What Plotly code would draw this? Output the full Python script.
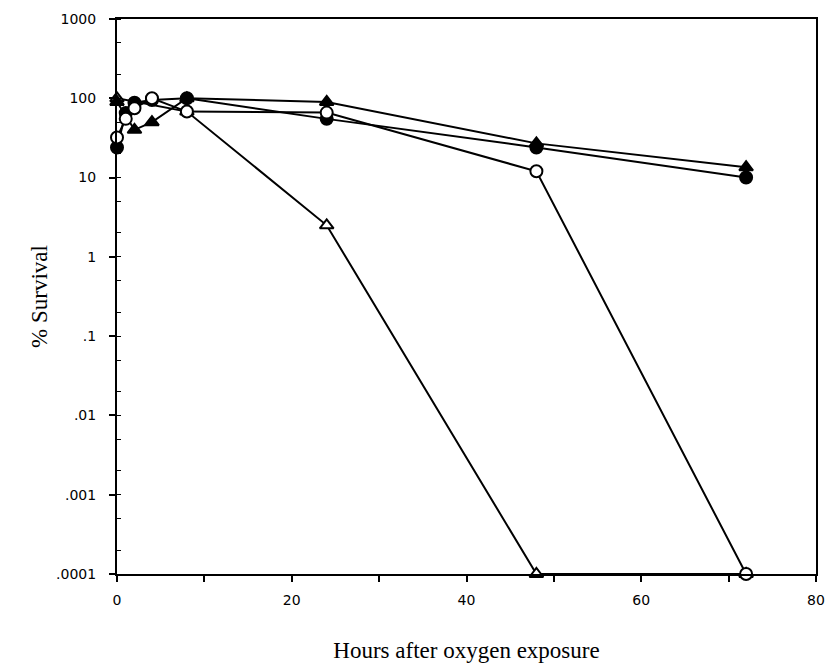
import plotly.graph_objects as go

# Hours after oxygen exposure
hours_fill_tri = [0, 2, 4, 8, 24, 48, 72]
surv_fill_tri = [90, 40, 50, 100, 90, 27, 13.5]

hours_fill_circ = [0, 1, 2, 4, 8, 24, 48, 72]
surv_fill_circ = [24, 65, 88, 95, 100, 55, 24, 10]

hours_open_circ = [0, 1, 2, 4, 8, 24, 48, 72]
surv_open_circ = [32, 55, 75, 100, 68, 66, 12, 0.0001]

hours_open_tri = [0, 8, 24, 48, 72]
surv_open_tri = [100, 68, 2.5, 0.0001, 0.0001]

y_tickvals = [0.0001, 0.001, 0.01, 0.1, 1, 10, 100, 1000]
y_ticktext = [".0001", ".001", ".01", ".1", "1", "10", "100", "1000"]
x_tickvals = [0, 10, 20, 30, 40, 50, 60, 70, 80]
x_ticktext = ["0", "", "20", "", "40", "", "60", "", "80"]

fig = go.Figure()

def add(x, y, symbol, filled):
    fig.add_trace(go.Scatter(
        x=x, y=y, mode="lines+markers",
        line=dict(color="black", width=2),
        marker=dict(symbol=symbol, size=12,
                    color="black" if filled else "white",
                    line=dict(color="black", width=2)),
        cliponaxis=False, showlegend=False))

add(hours_open_tri, surv_open_tri, "triangle-up", False)
add(hours_fill_tri, surv_fill_tri, "triangle-up", True)
add(hours_fill_circ, surv_fill_circ, "circle", True)
add(hours_open_circ, surv_open_circ, "circle", False)

tick_font = dict(family="DejaVu Sans", size=14, color="black")
title_font = dict(family="Liberation Serif, Times New Roman", size=23, color="black")

fig.update_layout(
    width=828, height=670,
    margin=dict(l=117, r=12, t=19, b=96),
    paper_bgcolor="white", plot_bgcolor="white",
    font=dict(family="DejaVu Sans", color="black", size=14),
)
fig.update_xaxes(
    automargin=False,
    range=[0, 80], tickvals=x_tickvals, ticktext=x_ticktext,
    ticks="outside", ticklen=6, tickwidth=2, tickcolor="black",
    ticklabelstandoff=6,
    showline=True, linecolor="black", linewidth=2, mirror=True,
    showgrid=False, zeroline=False,
    tickfont=tick_font,
    title=dict(text="Hours after oxygen exposure", font=title_font, standoff=35),
)
fig.update_yaxes(
    automargin=False,
    type="log", range=[-4, 3], tickvals=y_tickvals, ticktext=y_ticktext,
    ticks="outside", ticklen=6, tickwidth=2, tickcolor="black",
    ticklabelstandoff=10,
    minor=dict(ticks="inside", ticklen=4, tickwidth=1, tickcolor="black", showgrid=False),
    showline=True, linecolor="black", linewidth=2, mirror=True,
    showgrid=False, zeroline=False,
    tickfont=tick_font,
    title=dict(text="% Survival", font=title_font, standoff=2),
)

fig.write_html("out.html",
               config={"displayModeBar": False},
               post_script="document.body.style.margin='0';document.body.style.overflow='hidden';")
